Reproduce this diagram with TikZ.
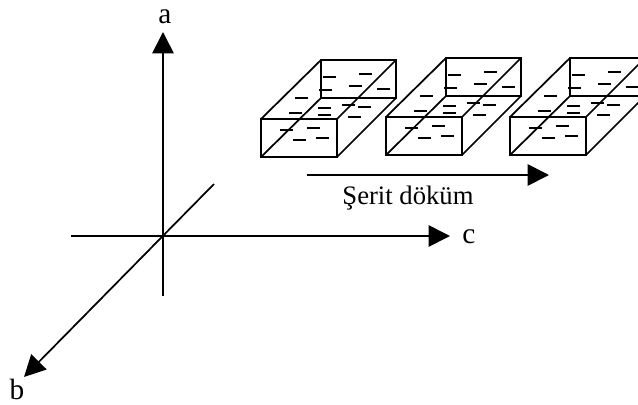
\documentclass[tikz,border=0pt]{standalone}
\usepackage{fontspec}
\setmainfont{Liberation Serif}
\usetikzlibrary{arrows.meta}
\begin{document}
\begin{tikzpicture}[
  x=0.75pt, y=-0.75pt,
  axisarr/.style={-{Triangle[length=16pt,width=16pt]}, line width=1.3pt, black},
  boxline/.style={line width=1.3pt, black, line join=miter},
  fleck/.style={line width=1pt, black},
  lbl/.style={inner sep=0pt, font=\fontsize{20}{22}\selectfont},
  axislbl/.style={inner sep=0pt, font=\fontsize{22}{24}\selectfont}
]
\useasboundingbox (0,0) rectangle (638,404);
\clip (0,0) rectangle (638,404);

% axes
\coordinate (origin) at (163,236);
\coordinate (atip) at (163,32);
\coordinate (adown) at (163,296);
\coordinate (cleft) at (71,236);
\coordinate (ctip) at (450,236);
\coordinate (bup) at (214,184);
\coordinate (btip) at (24,377);
\draw[axisarr] (adown) -- (atip);
\draw[axisarr] (cleft) -- (ctip);
\draw[axisarr] (bup) -- (btip);
\node[axislbl] (alabel) at (165,17) {a};
\node[axislbl] (blabel) at (17,389) {b};
\node[axislbl] (clabel) at (469,237) {c};

% strips
\foreach \bx/\by in {0/0, 125/-2, 249/-2} {
  \begin{scope}[shift={(\bx,\by)}]
    \draw[boxline] (261,119) rectangle (337,157);
    \draw[boxline] (321,60) rectangle (396,98);
    \draw[boxline] (261,119) -- (321,60);
    \draw[boxline] (261,157) -- (321,98);
    \draw[boxline] (337,119) -- (396,60);
    \draw[boxline] (337,157) -- (396,98);
    \foreach \fx/\fy in {323/77, 359/74, 319/90, 349/86, 377/89, 295/98,
                         289/113, 318/108, 342/105, 358/107, 318/115, 348/117,
                         280/130, 307/128, 293/140, 316/138} {
      \draw[fleck] (\fx,\fy) -- ++(13,0);
    }
  \end{scope}
}

% casting direction
\coordinate (stripstart) at (307,175);
\coordinate (striptip) at (549,175);
\draw[axisarr] (stripstart) -- (striptip);
\node[lbl] (striplabel) at (408,198) {Şerit döküm};
\end{tikzpicture}
\end{document}
